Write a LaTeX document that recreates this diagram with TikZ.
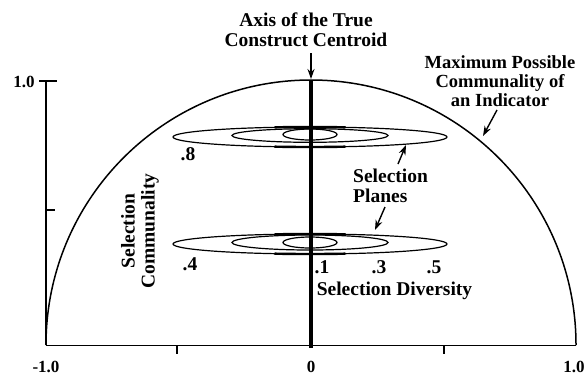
\documentclass[tikz,border=0pt]{standalone}
\usepackage{fontspec}
\setmainfont{Liberation Serif}
\usetikzlibrary{arrows.meta}
\begin{document}
\begin{tikzpicture}[x=1pt,y=-1pt,
  lbl/.style={font=\bfseries\fontsize{19.5}{20}\selectfont, inner sep=0pt, align=center},
  ticklbl/.style={font=\bfseries\fontsize{17}{18}\selectfont, inner sep=0pt, anchor=base},
  numlbl/.style={font=\bfseries\fontsize{19.5}{20}\selectfont, inner sep=0pt, anchor=base},
  arr/.style={-{Stealth[length=10pt,width=7pt]}, line width=1.4pt},
  plane/.style={line width=1.2pt},
  heavy/.style={line width=2.4pt},
  axisline/.style={line width=2.8pt}]
\useasboundingbox (0,0) rectangle (585,375);
% axes
\coordinate (O) at (311,345);
\coordinate (L) at (46,345);
\coordinate (R) at (576,345);
\coordinate (Ltop) at (46,81);
\draw[line width=0.9pt] (L) -- (R);
\draw[axisline] (Ltop) -- (L);
\draw[axisline] (39,81) -- (57,81);
\draw[line width=1.6pt] (46,210) -- (55,210);
\draw[line width=2pt] (177,345) -- (177,354);
\draw[line width=2pt] (444,345) -- (444,354);
% semicircle
\draw[line width=1.5pt] (L) arc[start angle=180, end angle=0, radius=265pt];
% central axis
\coordinate (Ctop) at (311,80);
\coordinate (Cbot) at (311,348);
\draw[line width=4pt] (Ctop) -- (Cbot);
% selection planes (upper, .8)
\draw[plane] (310,137) ellipse [x radius=137pt, y radius=10pt];
\draw[plane] (310,135.5) ellipse [x radius=78pt, y radius=6.8pt];
\draw[plane] (310,134.5) ellipse [x radius=27pt, y radius=5.5pt];
\draw[heavy] (345.5,127.34) arc[start angle=75, end angle=105, x radius=137pt, y radius=10pt];
\draw[heavy] (274.5,146.66) arc[start angle=255, end angle=285, x radius=137pt, y radius=10pt];
% selection planes (lower, .4)
\draw[plane] (310,244) ellipse [x radius=137pt, y radius=10pt];
\draw[plane] (310,242.5) ellipse [x radius=78pt, y radius=7.5pt];
\draw[plane] (310,242.5) ellipse [x radius=27pt, y radius=5.5pt];
\draw[heavy] (345.5,234.34) arc[start angle=75, end angle=105, x radius=137pt, y radius=10pt];
\draw[heavy] (274.5,253.66) arc[start angle=255, end angle=285, x radius=137pt, y radius=10pt];
% labels
\node[lbl] (title) at (306,30) {Axis of the True\\Construct Centroid};
\node[lbl, font=\bfseries\fontsize{18.5}{19}\selectfont] (maxlbl) at (500,81) {Maximum Possible\\Communality of\\an Indicator};
\node[lbl, align=left, anchor=west] (planes) at (353,186) {Selection\\Planes};
\node[lbl, rotate=90] (comm) at (140,231) {Selection\\Communality};
\node[numlbl] (d8) at (188,160) {.8};
\node[numlbl] (d4) at (190,270) {.4};
\node[numlbl] (d1) at (322,273) {.1};
\node[numlbl] (d3) at (379,273) {.3};
\node[numlbl] (d5) at (434,273) {.5};
\node[numlbl] (div) at (394.5,295) {Selection Diversity};
\node[ticklbl] (ty1) at (24,87) {1.0};
\node[ticklbl] (txm) at (46,372) {-1.0};
\node[ticklbl] (tx0) at (311,372) {0};
\node[ticklbl] (tx1) at (574,372) {1.0};
% arrows
\coordinate (a1s) at (311,53);
\coordinate (a1e) at (311,79);
\draw[arr] (a1s) -- (a1e);
\coordinate (a2s) at (497,110);
\coordinate (a2e) at (483,136);
\draw[arr] (a2s) -- (a2e);
\coordinate (a3s) at (398,164);
\coordinate (a3e) at (406,145);
\draw[arr] (a3s) -- (a3e);
\coordinate (a4s) at (385,207);
\coordinate (a4e) at (375,230);
\draw[arr] (a4s) -- (a4e);
\end{tikzpicture}
\end{document}
